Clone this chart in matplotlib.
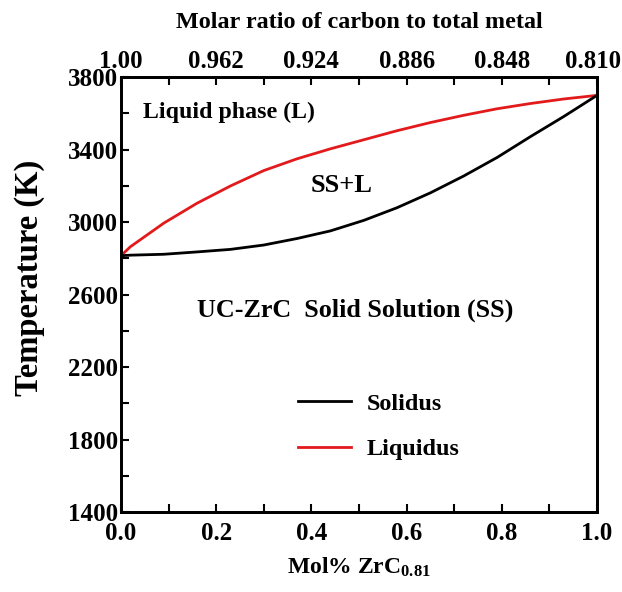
import matplotlib
matplotlib.use("Agg")
import matplotlib.pyplot as plt
from matplotlib.ticker import MultipleLocator
from matplotlib.transforms import ScaledTranslation

plt.rcParams["font.family"] = ["Liberation Serif", "DejaVu Serif"]
plt.rcParams["font.weight"] = "bold"
plt.rcParams["mathtext.fontset"] = "custom"
plt.rcParams["mathtext.rm"] = "Liberation Serif:bold"
plt.rcParams["mathtext.bf"] = "Liberation Serif:bold"
plt.rcParams["mathtext.it"] = "Liberation Serif:bold"

# Composition (mole fraction ZrC0.81) and phase-boundary temperatures (K)
liquidus_x = [0.0, 0.02, 0.09, 0.16, 0.23, 0.30, 0.37, 0.44, 0.51, 0.58, 0.65, 0.72, 0.79, 0.86, 0.93, 1.0]
liquidus_T = [2815, 2865, 2995, 3105, 3200, 3285, 3350, 3405, 3455, 3505, 3550, 3590, 3626, 3655, 3680, 3700]

solidus_x = [0.0, 0.02, 0.09, 0.16, 0.23, 0.30, 0.37, 0.44, 0.51, 0.58, 0.65, 0.72, 0.79, 0.86, 0.93, 1.0]
solidus_T = [2815, 2818, 2823, 2836, 2850, 2874, 2910, 2952, 3010, 3080, 3162, 3255, 3357, 3472, 3583, 3700]

# Top axis: C/(U+Zr) molar ratio at each major composition tick
top_tick_pos = [0.0, 0.2, 0.4, 0.6, 0.8, 1.0]
top_tick_labels = ["1.00", "0.962", "0.924", "0.886", "0.848", "0.810"]

bottom_ticks = [0.0, 0.2, 0.4, 0.6, 0.8, 1.0]
y_ticks = [1400, 1800, 2200, 2600, 3000, 3400, 3800]

fig = plt.figure(figsize=(6.22, 5.92), dpi=100)
ax = fig.add_axes([0.1945, 0.135, 0.7653, 0.7345])

ax.plot(liquidus_x, liquidus_T, color="#e31a1c", lw=2.0, label="Liquidus", zorder=3)
ax.plot(solidus_x, solidus_T, color="black", lw=2.0, label="Solidus", zorder=4)

ax.set_xlim(0, 1)
ax.set_ylim(1400, 3800)
ax.set_xticks(bottom_ticks)
ax.set_xticklabels([f"{v:.1f}" for v in bottom_ticks])
ax.xaxis.set_minor_locator(MultipleLocator(0.1))
ax.set_yticks(y_ticks)
ax.yaxis.set_minor_locator(MultipleLocator(200))

ax.tick_params(axis="both", which="both", direction="in", width=1.5,
               length=6, labelsize=18)
ax.tick_params(axis="x", which="major", pad=7)
ax.tick_params(axis="y", which="major", pad=2)
ax.tick_params(axis="x", which="both", top=False)
ax.tick_params(axis="y", which="both", right=False)
for sp in ax.spines.values():
    sp.set_linewidth(2.0)

ax.set_xlabel("Mol% ZrC$_{0.81}$", fontsize=17, fontweight="bold", labelpad=8)
ax.set_ylabel("Temperature (K)", fontsize=23.5, fontweight="bold")
ax.yaxis.set_label_coords(-0.16, 0.538)

top = ax.twiny()
top.set_xlim(ax.get_xlim())
top.set_xticks(top_tick_pos)
top.set_xticklabels(top_tick_labels)
top.xaxis.set_minor_locator(MultipleLocator(0.1))
top.tick_params(axis="x", which="both", direction="in", length=6, width=1.5,
                labelsize=17.8, pad=3)
for sp in top.spines.values():
    sp.set_linewidth(2.0)
top.set_xlabel("Molar ratio of carbon to total metal", fontsize=17.4,
               fontweight="bold", labelpad=16)

# nudge the rightmost top label so it stays inside the canvas
last = top.get_xticklabels()[-1]
last.set_transform(last.get_transform() + ScaledTranslation(-4 / 100, 0, fig.dpi_scale_trans))

ax.text(0.046, 3608, "Liquid phase (L)", fontsize=17.2, fontweight="bold",
        ha="left", va="center")
ax.text(0.464, 3205, "SS+L", fontsize=19, fontweight="bold",
        ha="center", va="center")
ax.text(0.493, 2515, "UC-ZrC  Solid Solution (SS)", fontsize=18.8,
        fontweight="bold", ha="center", va="center")

handles, labels = ax.get_legend_handles_labels()
order = [labels.index("Solidus"), labels.index("Liquidus")]
ax.legend([handles[i] for i in order], [labels[i] for i in order],
          loc="center left", bbox_to_anchor=(0.372, 0.197), frameon=False,
          handlelength=2.2, handletextpad=0.65, labelspacing=0.97,
          borderaxespad=0, borderpad=0,
          prop={"weight": "bold", "size": 17.4})

fig.savefig("out.png", dpi=100)
